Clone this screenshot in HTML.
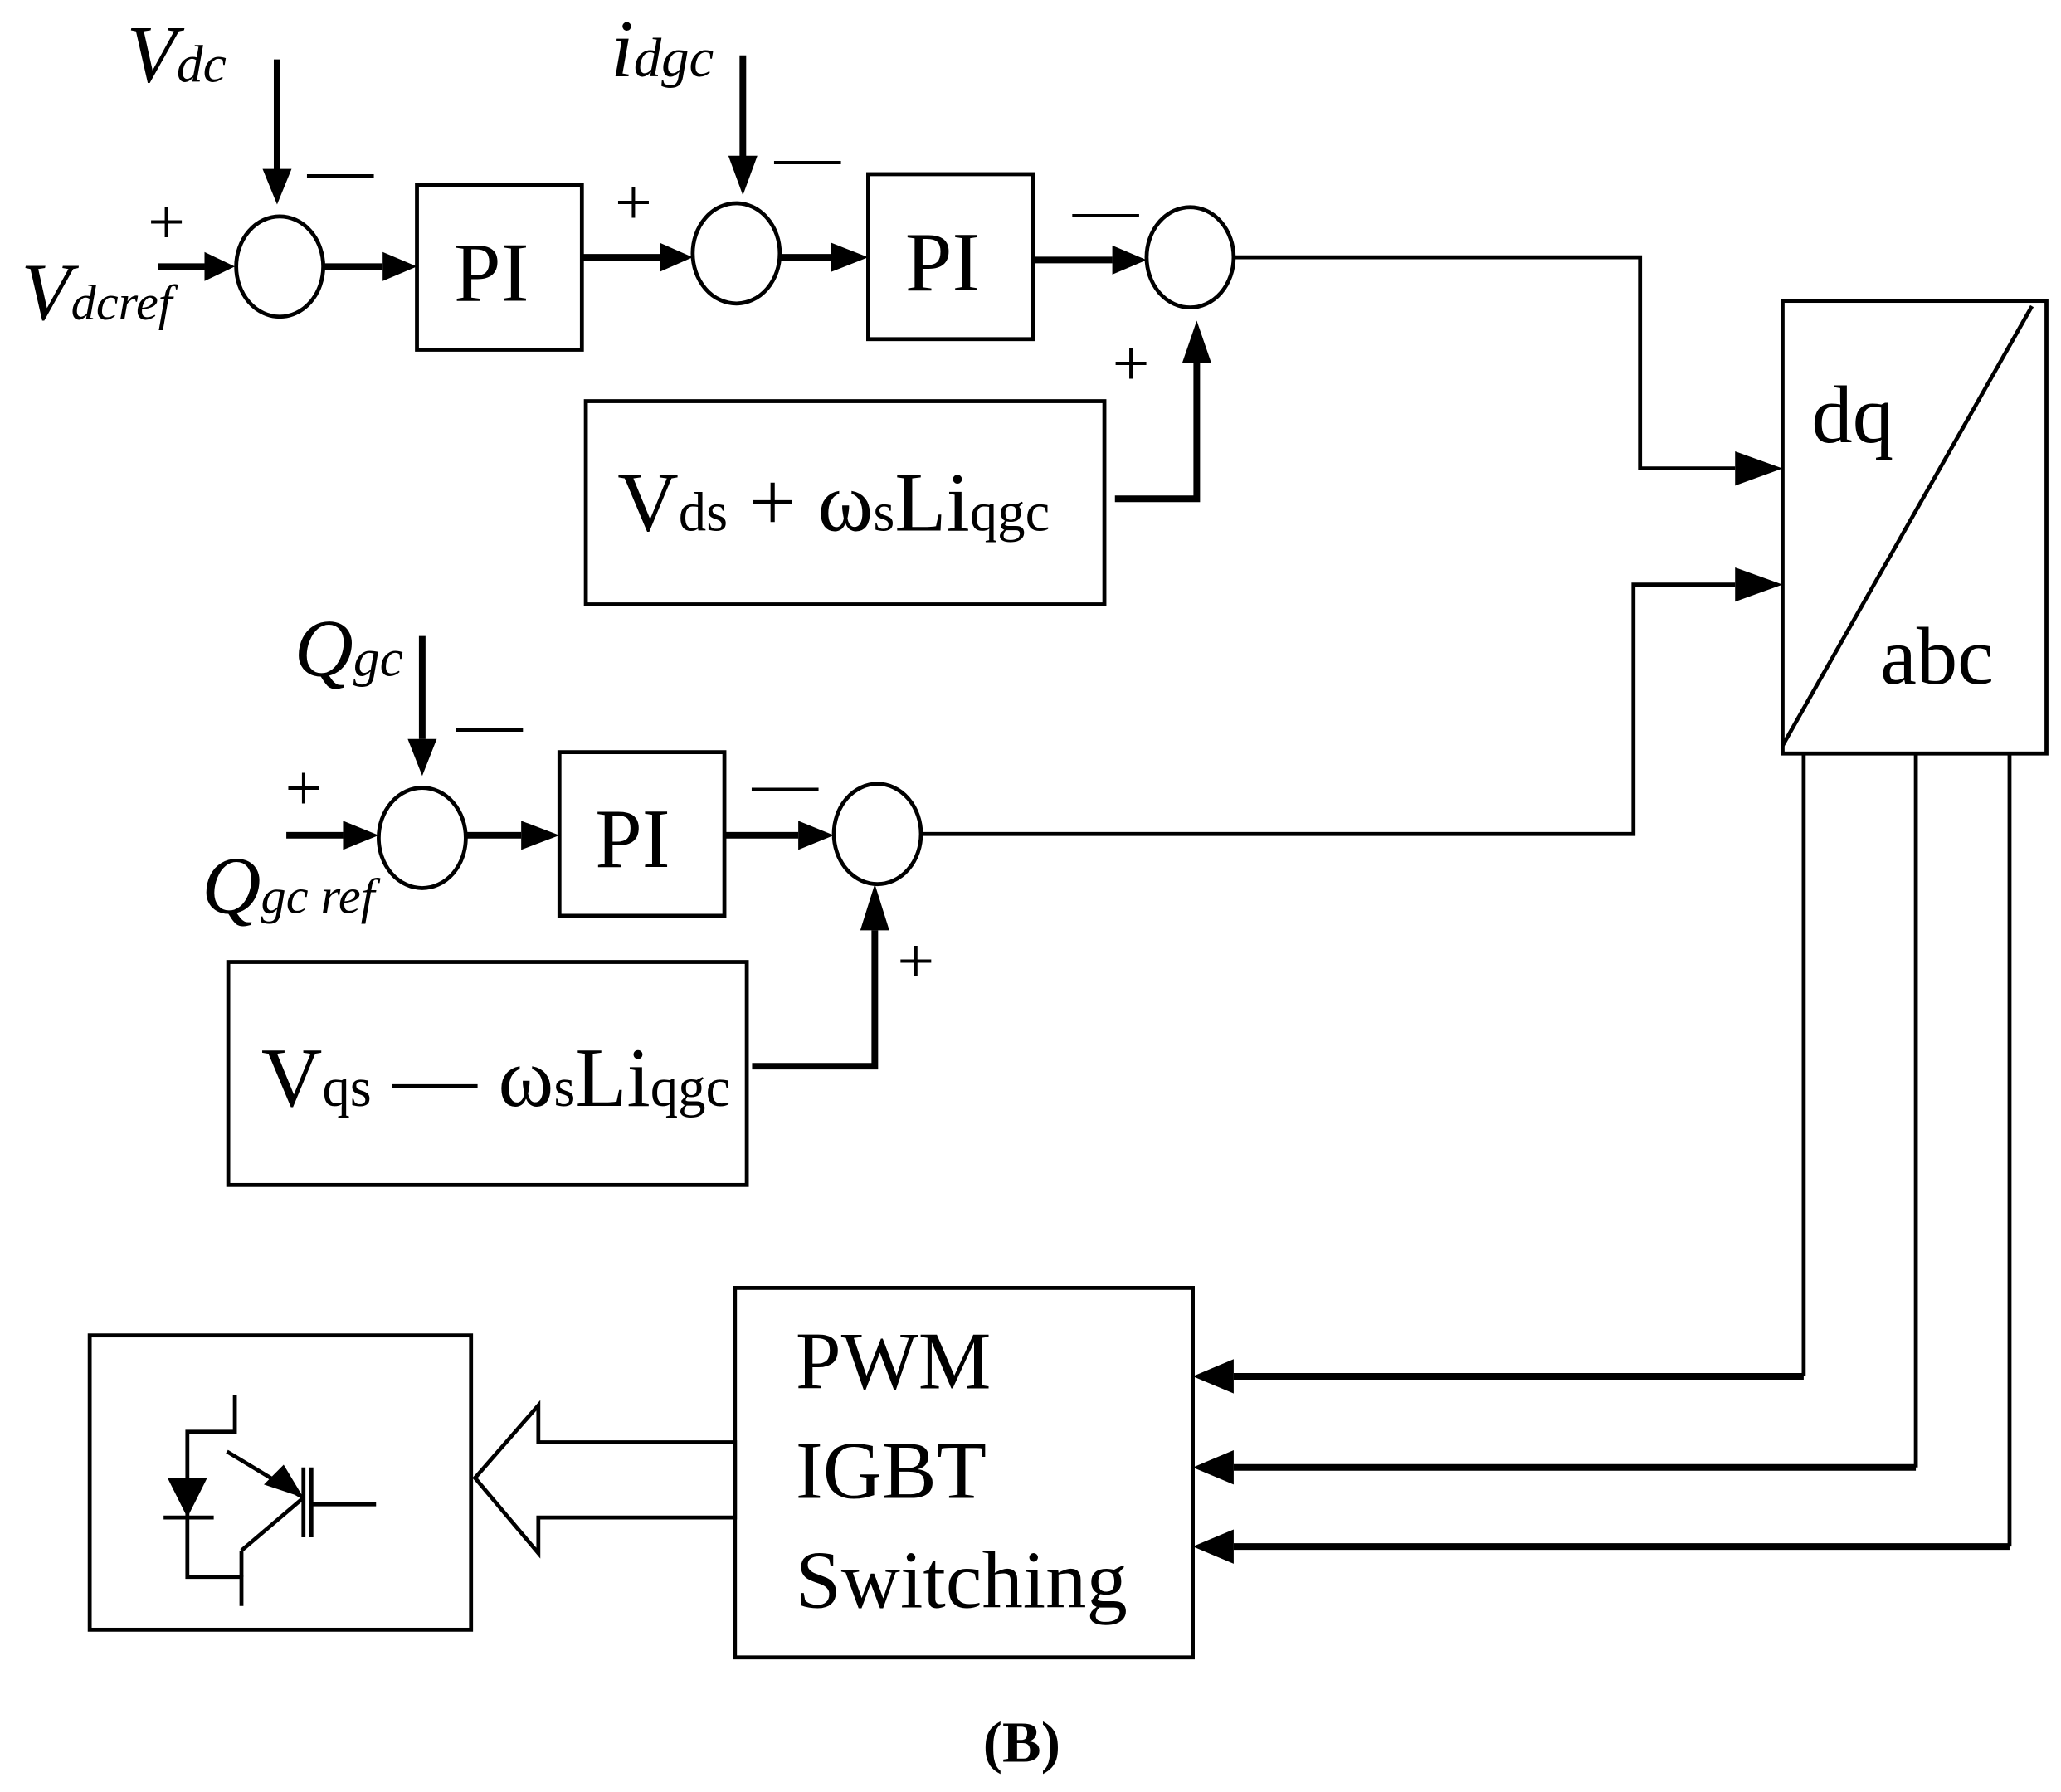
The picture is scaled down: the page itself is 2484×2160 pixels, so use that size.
<!DOCTYPE html>
<html><head><meta charset="utf-8"><style>
html,body{margin:0;padding:0;background:#fff;}
svg{display:block;}
text{font-family:"Liberation Serif",serif;fill:#000;}
</style></head><body>
<svg width="2484" height="2160" viewBox="0 0 1562 1358" preserveAspectRatio="none" xmlns="http://www.w3.org/2000/svg">
<g fill="none" stroke="#000" stroke-width="3">
<ellipse cx="212" cy="202" rx="33" ry="38"/>
<ellipse cx="558" cy="192" rx="33" ry="38"/>
<ellipse cx="902" cy="195" rx="33" ry="38"/>
<ellipse cx="320" cy="635" rx="33" ry="38"/>
<ellipse cx="665" cy="632" rx="33" ry="38"/>
<rect x="316" y="140" width="125" height="125"/>
<rect x="658" y="132" width="125" height="125"/>
<rect x="424" y="570" width="125" height="124"/>
<rect x="444" y="304" width="393" height="154"/>
<rect x="173" y="729" width="393" height="169"/>
<rect x="1351" y="228" width="200" height="343"/>
<line x1="1351" y1="565" x2="1540" y2="232"/>
<rect x="557" y="976" width="347" height="280"/>
<rect x="68" y="1012" width="289" height="223"/>
<line x1="120" y1="202" x2="155" y2="202" stroke-width="5"/>
<line x1="245" y1="202" x2="290" y2="202" stroke-width="5"/>
<line x1="441" y1="195" x2="500" y2="195" stroke-width="5"/>
<line x1="591" y1="195" x2="630" y2="195" stroke-width="5"/>
<line x1="783" y1="197" x2="843" y2="197" stroke-width="5"/>
<line x1="210" y1="45" x2="210" y2="130" stroke-width="5"/>
<line x1="563" y1="42" x2="563" y2="120" stroke-width="5"/>
<polyline points="845,378 907,378 907,275" stroke-width="5"/>
<polyline points="935,195 1243,195 1243,355 1315,355"/>
<polyline points="698,632 1238,632 1238,443 1315,443"/>
<line x1="1367" y1="571" x2="1367" y2="1043"/>
<line x1="1367" y1="1043" x2="935" y2="1043" stroke-width="5"/>
<line x1="1452" y1="571" x2="1452" y2="1112"/>
<line x1="1452" y1="1112" x2="935" y2="1112" stroke-width="5"/>
<line x1="1523" y1="571" x2="1523" y2="1172"/>
<line x1="1523" y1="1172" x2="935" y2="1172" stroke-width="5"/>
<line x1="217" y1="633" x2="260" y2="633" stroke-width="5"/>
<line x1="353" y1="633" x2="395" y2="633" stroke-width="5"/>
<line x1="549" y1="633" x2="605" y2="633" stroke-width="5"/>
<line x1="320" y1="482" x2="320" y2="560" stroke-width="5"/>
<polyline points="570,808 663,808 663,705" stroke-width="5"/>
<polygon points="557,1093 408,1093 408,1065 360,1120 408,1177 408,1150 557,1150"/>
<polyline points="178,1057 178,1085 142,1085 142,1195 183,1195 183,1217"/>
<line x1="124" y1="1150" x2="162" y2="1150"/>
<line x1="172" y1="1100" x2="230" y2="1135"/>
<line x1="230" y1="1135" x2="183" y2="1175"/>
<line x1="183" y1="1175" x2="183" y2="1195"/>
<line x1="230" y1="1112" x2="230" y2="1165"/>
<line x1="236" y1="1112" x2="236" y2="1165"/>
<line x1="236" y1="1140" x2="285" y2="1140"/>
</g>
<g fill="#000">
<polygon points="178,202 155,191 155,213"/>
<polygon points="316,202 290,191 290,213"/>
<polygon points="525,195 500,184 500,206"/>
<polygon points="658,195 630,184 630,206"/>
<polygon points="869,197 843,186 843,208"/>
<polygon points="210,155 199,128 221,128"/>
<polygon points="563,148 552,118 574,118"/>
<polygon points="907,243 896,275 918,275"/>
<polygon points="1351,355 1315,342 1315,368"/>
<polygon points="1351,443 1315,430 1315,456"/>
<polygon points="904,1043 935,1030 935,1056"/>
<polygon points="904,1112 935,1099 935,1125"/>
<polygon points="904,1172 935,1159 935,1185"/>
<polygon points="287,633 260,622 260,644"/>
<polygon points="424,633 395,622 395,644"/>
<polygon points="632,633 605,622 605,644"/>
<polygon points="320,588 309,560 331,560"/>
<polygon points="663,670 652,705 674,705"/>
<polygon points="142,1150 127,1120 157,1120"/>
<polygon points="230,1135 200,1125 215,1110"/>
</g>
<g font-size="50">
<text x="112" y="185">+</text>
<text x="233" y="145">—</text>
<text x="466" y="170">+</text>
<text x="587" y="135">—</text>
<text x="813" y="175">—</text>
<text x="843" y="292">+</text>
<text x="216" y="614">+</text>
<text x="346" y="565">—</text>
<text x="570" y="610">—</text>
<text x="680" y="745">+</text>
</g>
<g font-style="italic">
<text x="96" y="62" font-size="62">V<tspan font-size="40">dc</tspan></text>
<text x="16" y="242" font-size="62">V<tspan font-size="38">dcref</tspan></text>
<text x="463" y="58" font-size="62">i<tspan font-size="42">dgc</tspan></text>
<text x="223" y="512" font-size="62">Q<tspan font-size="40">gc</tspan></text>
<text x="153" y="692" font-size="62">Q<tspan font-size="38">gc ref</tspan></text>
</g>
<g font-size="62">
<text x="344" y="228" font-size="64">PI</text>
<text x="686" y="220" font-size="64">PI</text>
<text x="451" y="657" font-size="64">PI</text>
<text x="468" y="402" font-size="64">V<tspan font-size="42">ds</tspan> + ω<tspan font-size="42">s</tspan>Li<tspan font-size="42">qgc</tspan></text>
<text x="198" y="838" font-size="64">V<tspan font-size="42">qs</tspan> — ω<tspan font-size="42">s</tspan>Li<tspan font-size="42">qgc</tspan></text>
<text x="1373" y="335">dq</text>
<text x="1425" y="518">abc</text>
<text x="603" y="1052">PWM</text>
<text x="603" y="1135">IGBT</text>
<text x="603" y="1218">Switching</text>
<text x="745" y="1335" font-size="44" font-weight="bold">(B)</text>
</g>
</svg>
</body></html>
